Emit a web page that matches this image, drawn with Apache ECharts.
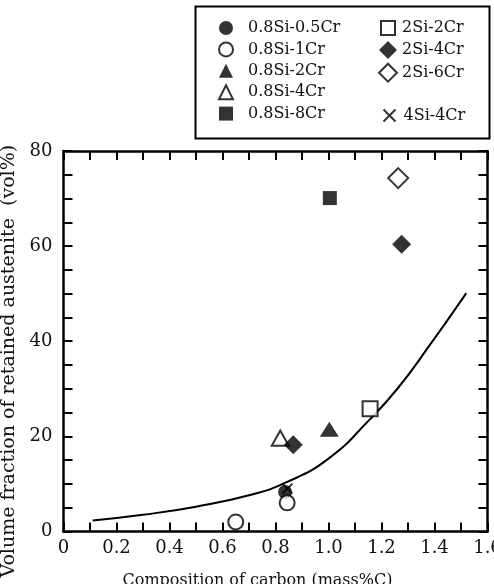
<!DOCTYPE html>
<html>
<head>
<meta charset="utf-8">
<script src="https://cdn.jsdelivr.net/npm/echarts@6/dist/echarts.min.js"></script>
<style>
html,body{margin:0;padding:0;background:#fff;}
#chart{width:494px;height:584px;}
</style>
</head>
<body>
<div id="chart"></div>
<script>
// ---- data ----
const xTickLabels = ['0', '0.2', '0.4', '0.6', '0.8', '1.0', '1.2', '1.4', '1.6'];
const yTickLabels = ['0', '20', '40', '60', '80'];

const s_08Si_05Cr = [[0.836, 8.3]];
const s_08Si_1Cr  = [[0.65, 2.0], [0.844, 6.0]];
const s_08Si_2Cr  = [[1.003, 21.5]];
const s_08Si_4Cr  = [[0.818, 19.6]];
const s_08Si_8Cr  = [[1.005, 70.1]];
const s_2Si_2Cr   = [[1.157, 25.8]];
const s_2Si_4Cr   = [[0.867, 18.2], [1.276, 60.4]];
const s_2Si_6Cr   = [[1.263, 74.3]];
const s_4Si_4Cr   = [[0.845, 9.0]];

const curveX = [0.11, 0.3, 0.5, 0.7, 0.84, 1.0, 1.155, 1.26, 1.38, 1.52];
const curveY = [2.3, 3.5, 5.2, 7.6, 10.3, 15.3, 23.5, 30.0, 39.0, 50.1];

// ---- chart ----
const FONT = 'DejaVu Serif';
const chart = echarts.init(document.getElementById('chart'), null, {renderer: 'canvas'});

const filled = {color: '#000', borderColor: '#000', borderWidth: 0};
const open = {color: '#fff', borderColor: '#000', borderWidth: 2};

function sc(name, data, symbol, size, style, z) {
  return {
    name: name, type: 'scatter', data: data, symbol: symbol, symbolSize: size,
    itemStyle: style, z: z || 3, xAxisIndex: 0, yAxisIndex: 0
  };
}

// labels only at major positions (every 0.2 / every 20); ticks every 0.1 / 5
const xLab = v => {
  const k = Math.round(v * 10);
  return k % 2 === 0 ? (xTickLabels[k / 2] || '') : '';
};
const yLab = v => {
  const k = Math.round(v);
  return k % 20 === 0 ? (yTickLabels[k / 20] || '') : '';
};

const axisLine = {show: true, onZero: false, lineStyle: {color: '#000', width: 2.5}};
const tick = {show: true, inside: true, length: 9, lineStyle: {color: '#000', width: 2}};

const legendText = {fontFamily: FONT, fontSize: 16, color: '#111'};
function lg(names, left, top, size, gap, pad) {
  return {
    orient: 'vertical', left: left, top: top, padding: 0,
    itemWidth: size, itemHeight: size, itemGap: gap,
    data: names, selectedMode: false,
    textStyle: Object.assign({padding: [0, 0, 0, pad]}, legendText)
  };
}

const option = {
  backgroundColor: '#fff',
  animation: false,
  grid: {left: 63.5, right: 6.5, top: 151, bottom: 52.6, containLabel: false, outerBoundsMode: 'none'},
  xAxis: [{
    type: 'value', min: 0, max: 1.6, interval: 0.1, position: 'bottom',
    name: 'Composition of carbon (mass%C)', nameLocation: 'middle', nameGap: 41,
    nameTextStyle: {fontFamily: FONT, fontSize: 16, color: '#111', padding: [0, 36, 0, 0]},
    axisLine: axisLine, axisTick: tick,
    splitLine: {show: false},
    axisLabel: {formatter: xLab, interval: 0, showMaxLabel: true, fontFamily: FONT, fontSize: 18, color: '#111', margin: 8}
  }, {
    type: 'value', min: 0, max: 1.6, interval: 0.1, position: 'top',
    axisLine: axisLine, axisTick: tick,
    splitLine: {show: false}, axisLabel: {show: false}
  }],
  yAxis: [{
    type: 'value', min: 0, max: 80, interval: 5, position: 'left',
    name: 'Volume fraction of retained austenite  (vol%)', nameLocation: 'middle', nameGap: 39,
    nameTextStyle: {fontFamily: FONT, fontSize: 19, color: '#111', padding: [0, 40, 0, 0]},
    axisLine: axisLine, axisTick: tick,
    splitLine: {show: false},
    axisLabel: {formatter: yLab, interval: 0, fontFamily: FONT, fontSize: 18, color: '#111', margin: 11}
  }, {
    type: 'value', min: 0, max: 80, interval: 5, position: 'right',
    axisLine: axisLine, axisTick: tick,
    splitLine: {show: false}, axisLabel: {show: false}
  }],
  legend: [
    lg(['0.8Si-0.5Cr', '0.8Si-1Cr', '0.8Si-2Cr', '0.8Si-4Cr', '0.8Si-8Cr'], 218, 20, 14, 5.4, 10),
    lg(['2Si-2Cr'], 380, 20, 14, 5.4, 2),
    lg(['2Si-4Cr', '2Si-6Cr'], 378, 41, 18, 3.7, 0),
    lg(['4Si-4Cr'], 381, 107, 12, 5, 3)
  ],
  graphic: [{
    type: 'rect', left: 193, top: 4, silent: true,
    shape: {width: 294, height: 132},
    style: {fill: 'none', stroke: '#000', lineWidth: 2}
  }],
  series: [
    {
      name: 'curve', type: 'line', smooth: true, symbol: 'none',
      data: curveX.map((x, i) => [x, curveY[i]]),
      lineStyle: {color: '#000', width: 2}, z: 2
    },
    sc('4Si-4Cr', s_4Si_4Cr, 'path://M0,0L10,10M10,0L0,10', 10,
       {color: 'none', borderColor: '#000', borderWidth: 2}, 3),
    sc('0.8Si-0.5Cr', s_08Si_05Cr, 'circle', 14, filled, 4),
    sc('0.8Si-1Cr', s_08Si_1Cr, 'circle', 15, open, 4),
    sc('0.8Si-2Cr', s_08Si_2Cr, 'triangle', [19, 15], filled, 4),
    sc('0.8Si-4Cr', s_08Si_4Cr, 'triangle', [17, 15], open, 3),
    sc('0.8Si-8Cr', s_08Si_8Cr, 'rect', 14, filled, 4),
    sc('2Si-2Cr', s_2Si_2Cr, 'rect', 15, open, 4),
    sc('2Si-4Cr', s_2Si_4Cr, 'diamond', 19, filled, 4),
    sc('2Si-6Cr', s_2Si_6Cr, 'diamond', 20, open, 4)
  ]
};
chart.setOption(option);
</script>
</body>
</html>
